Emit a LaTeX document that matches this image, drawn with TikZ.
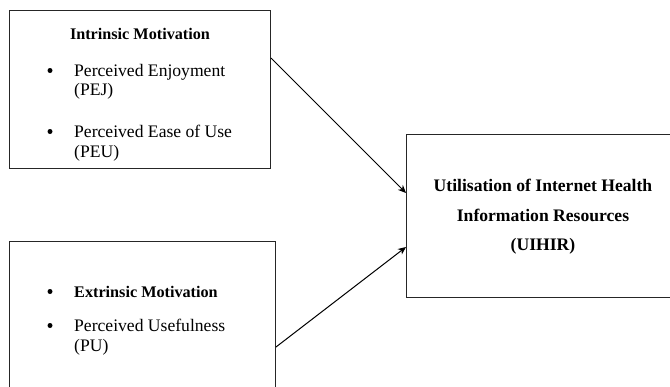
\documentclass[tikz,border=0pt]{standalone}
\usepackage{fontspec}
\setmainfont{Liberation Serif}
\usetikzlibrary{arrows.meta}
\begin{document}
\begin{tikzpicture}[x=1pt,y=-1pt,
  box/.style={draw=black!85,line width=1pt,anchor=north west,inner sep=0pt},
  txt/.style={anchor=base west,inner sep=0pt,font=\fontsize{17.6}{20}\selectfont},
  hdr/.style={inner sep=0pt,font=\fontsize{16.2}{20}\selectfont\bfseries},
  ttl/.style={anchor=base,inner sep=0pt,font=\fontsize{17.6}{20}\selectfont\bfseries},
  bul/.style={circle,fill=black,inner sep=0pt,minimum size=5pt},
  conn/.style={draw=black,line width=1pt,-{Stealth[length=8pt,width=7pt]}}]
\useasboundingbox (0,0) rectangle (670,386);
\clip (0,0) rectangle (670,386);
\node[box,minimum width=261pt,minimum height=158pt] (b1) at (9,10) {};
\node[box,minimum width=266pt,minimum height=155pt] (b2) at (9,241) {};
\node[box,minimum width=272pt,minimum height=163pt] (b3) at (406,134) {};
% box 1 texts
\node[hdr,anchor=base] (t1) at (140,39) {Intrinsic Motivation};
\node[bul] (d1) at (50,70.5) {};
\node[txt] (l1) at (74,76) {Perceived Enjoyment};
\node[txt] (l2) at (74,95.5) {(PEJ)};
\node[bul] (d2) at (50,131.5) {};
\node[txt] (l3) at (74,137) {Perceived Ease of Use};
\node[txt] (l4) at (74,157) {(PEU)};
% box 2 texts
\node[bul] (d3) at (50,291.5) {};
\node[hdr,anchor=base west] (l5) at (74,297) {Extrinsic Motivation};
\node[bul] (d4) at (50,325.5) {};
\node[txt] (l6) at (74,331) {Perceived Usefulness};
\node[txt] (l7) at (74,351) {(PU)};
% box 3 texts
\node[ttl] (u1) at (543,191) {Utilisation of Internet Health};
\node[ttl] (u2) at (543,221) {Information Resources};
\node[ttl] (u3) at (543,250.5) {(UIHIR)};
% connectors
\coordinate (s1) at (b1.east |- 0,58);
\coordinate (e1) at (b3.west |- 0,193);
\coordinate (s2) at (b2.east |- 0,347);
\coordinate (e2) at (b3.west |- 0,247);
\draw[conn] (s1) -- (e1);
\draw[conn] (s2) -- (e2);
\end{tikzpicture}
\end{document}
